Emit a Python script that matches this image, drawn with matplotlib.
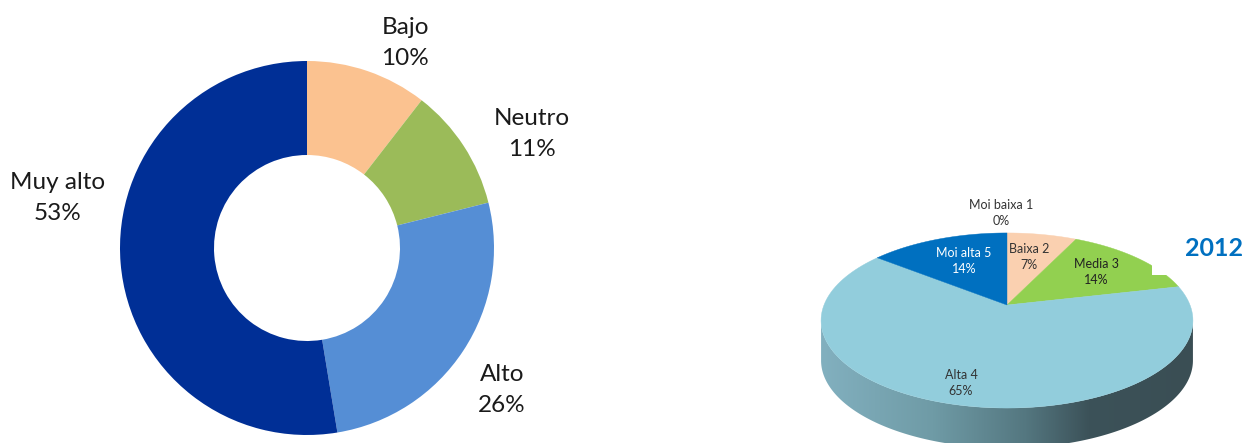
import numpy as np
import matplotlib
matplotlib.use('Agg')
import matplotlib.pyplot as plt
from matplotlib.colors import LinearSegmentedColormap
from matplotlib.patches import Polygon, Rectangle

plt.rcParams['font.family'] = ['Lato', 'DejaVu Sans']

# left donut
donut_names = ['Bajo', 'Neutro', 'Alto', 'Muy alto']
donut_values = [10.5, 10.6, 26.3, 52.6]
donut_pct = ['10%', '11%', '26%', '53%']
donut_colors = ['#FBC290', '#9BBB59', '#558ED5', '#002F96']

# right pie 2012, clockwise from the top
pie_names = ['Baixa 2', 'Media 3', 'Alta 4', 'Moi alta 5']
pie_values = [7.2, 14.2, 64.2, 14.4]
pie_pct = ['7%', '14%', '65%', '14%']
pie_colors = ['#FAD0B0', '#92D050', '#92CDDC', '#0070C0']
zero_name = 'Moi baixa 1'
zero_pct = '0%'

W, H = 1246, 443
fig = plt.figure(figsize=(W / 100, H / 100), dpi=100)
ax = fig.add_axes([0, 0, 1, 1])


def py(y):
    return H - y


ax.pie(donut_values, colors=donut_colors, startangle=90, counterclock=False,
       center=(307, py(248)), radius=187,
       wedgeprops=dict(width=94, linewidth=0))
ax.set_aspect('auto')
ax.axis('off')

label_xy = [(405, 43), (532, 134), (502, 390), (58, 198)]
for name, pct, (x, y) in zip(donut_names, donut_pct, label_xy):
    ax.text(x, py(y), name + '\n' + pct, ha='center', va='center',
            fontsize=17.5, color='#1A1A1A', linespacing=1.62)

# pie tilted in perspective, unit circle -> pixels
cx, cy = 1007, 305
a, b, p = 84.8, 183, 0.177
depth = 40


def project(ang):
    x, y = np.sin(ang), np.cos(ang)
    w = 1 + p * y
    return cx + b * x / w, py(cy) + a * y / w


# side wall with a gradient, lower half of the rim only
t = np.linspace(0, 2 * np.pi, 600)
ex, ey = project(t)
right = ex.argmax()
left = ex.argmin()
ex, ey = ex[right:left + 1], ey[right:left + 1]
wall = np.r_[np.c_[ex, ey], np.c_[ex, ey - depth][::-1]]
cmap = LinearSegmentedColormap.from_list('wall', [(0, '#82B0BF'), (0.3, '#6F9BA6'),
                                                  (0.55, '#547780'), (0.72, '#3C5259'),
                                                  (1, '#3A4E54')])
im = ax.imshow(np.linspace(0, 1, 256)[None, :], cmap=cmap, aspect='auto',
               extent=(ex.min(), ex.max(), 0, 170), zorder=1)
clip = Polygon(wall, transform=ax.transData, fc='none', ec='none')
ax.add_patch(clip)
im.set_clip_path(clip)
ax.set_xlim(0, W)
ax.set_ylim(0, H)

# wedges on top
cum = np.r_[0, np.cumsum(pie_values)] / np.sum(pie_values) * 2 * np.pi
for i, c in enumerate(pie_colors):
    tt = np.linspace(cum[i], cum[i + 1], 120)
    wx, wy = project(tt)
    pts = np.r_[[[cx, py(cy)]], np.c_[wx, wy]]
    ax.add_patch(Polygon(pts, closed=True, fc=c, ec=c, lw=0.3, zorder=2))

# white patch over the green slice
ax.add_patch(Rectangle((1152, py(275)), 26, 10, fc='white', ec='none', zorder=3))

pie_label_xy = [(1029, 257), (1096, 272), (961, 383), (964, 261)]
pie_text_colors = ['#333333', '#222222', '#333333', 'white']
for name, pct, (x, y), tc in zip(pie_names, pie_pct, pie_label_xy, pie_text_colors):
    ax.text(x, py(y), name + '\n' + pct, ha='center', va='center',
            fontsize=9, color=tc, linespacing=1.4, zorder=4)
ax.text(1001, py(213), zero_name + '\n' + zero_pct, ha='center', va='center',
        fontsize=9, color='#333333', linespacing=1.4, zorder=4)

ax.text(1214, py(249), '2012', ha='center', va='center', fontsize=18,
        fontweight='bold', color='#0070C0', zorder=4)

fig.savefig('out.png', dpi=100)
